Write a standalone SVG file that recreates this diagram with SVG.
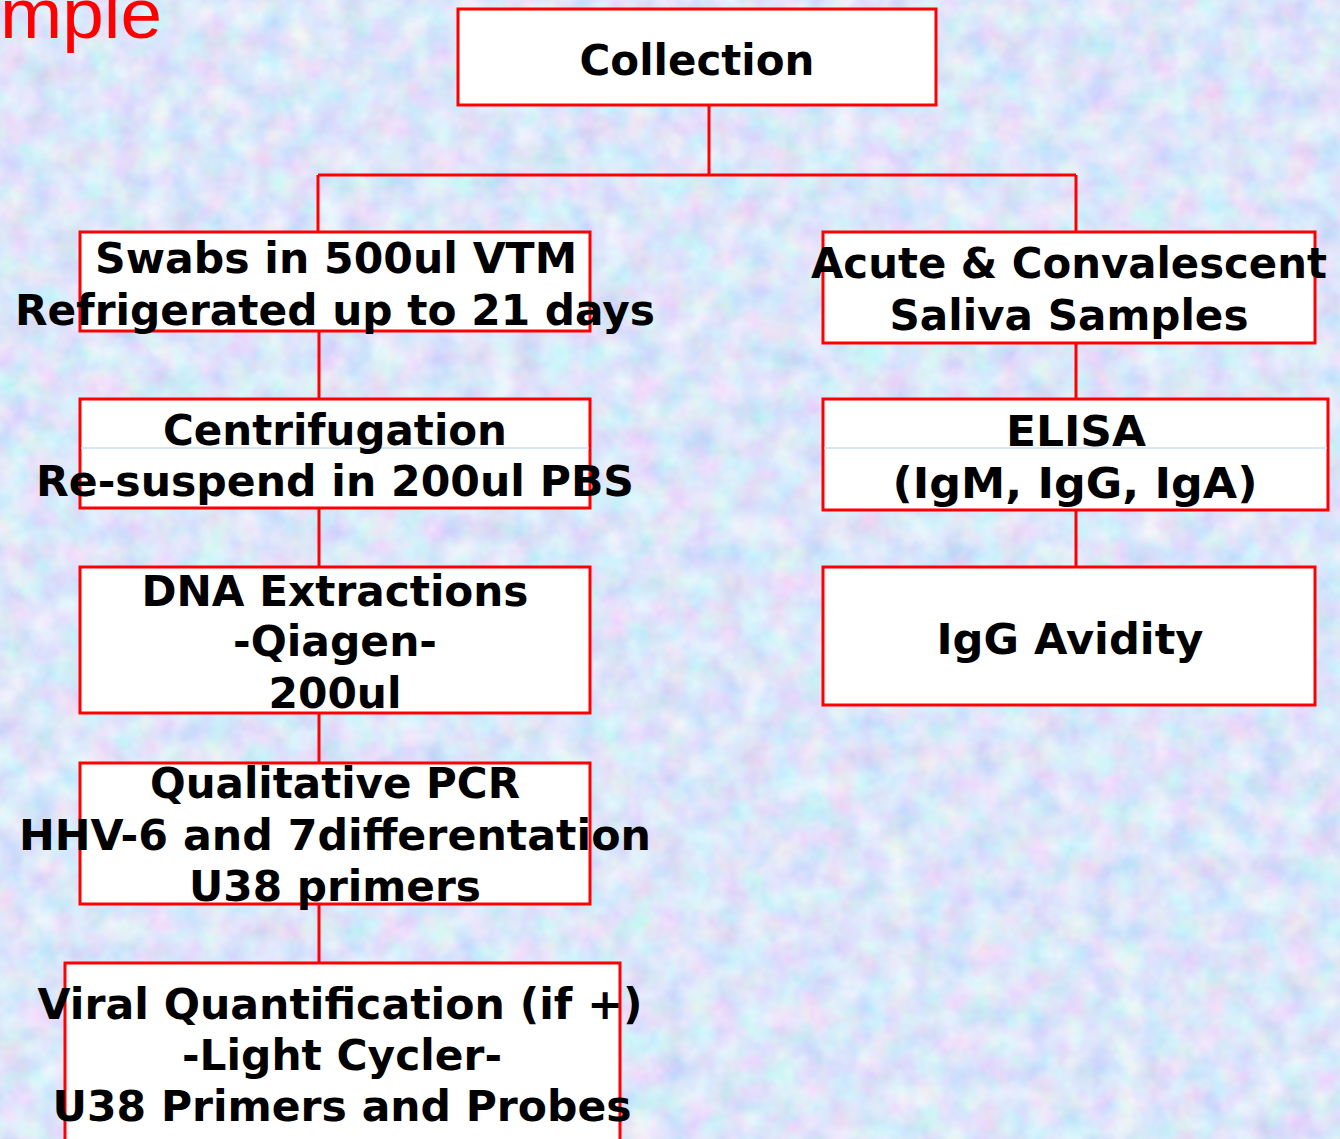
<svg xmlns="http://www.w3.org/2000/svg" width="1340" height="1139" viewBox="0 0 1340 1139">
<defs>
<filter id="tex" x="0" y="0" width="100%" height="100%">
<feTurbulence type="fractalNoise" baseFrequency="0.035" numOctaves="3" seed="7" result="n"/>
<feColorMatrix in="n" type="matrix" values="0.7 0 0 0 0.42  0 0.55 0 0 0.56  0 0 0.3 0 0.82  0 0 0 0 1"/>
</filter>
</defs>
<style>
.box{fill:#ffffff;stroke:#ff0000;stroke-width:3}
.lbl{font-family:"DejaVu Sans","Liberation Sans",sans-serif;font-weight:bold;font-size:43px;fill:#000000}
.con{stroke:#ff0000;stroke-width:3;fill:none}
.art{stroke:#c6dcf4;stroke-width:1.5}
</style>
<rect x="0" y="0" width="1340" height="1139" fill="#c2d4f4"/>
<rect x="0" y="0" width="1340" height="1139" filter="url(#tex)" opacity="0.8"/>
<text x="0" y="38" font-family="Liberation Sans, Arial, sans-serif" font-size="70" fill="#ff0000" textLength="162" lengthAdjust="spacingAndGlyphs">mple</text>

<g id="connectors">
<path class="con" d="M709,105 V175 M318,175 H1076 M318,175 V232 M1076,175 V232"/>
<path class="con" d="M319,331 V399 M319,508 V566 M319,713 V762 M319,904 V963"/>
<path class="con" d="M1076,343 V399 M1076,510 V566"/>
</g>

<g id="collection">
<rect class="box" x="458" y="9" width="478" height="96"/>
<text class="lbl" x="697" y="75" text-anchor="middle" textLength="235" lengthAdjust="spacingAndGlyphs">Collection</text>
</g>

<g id="swabs">
<rect class="box" x="80" y="232" width="510" height="99"/>
<text class="lbl" x="336" y="273" text-anchor="middle" textLength="482" lengthAdjust="spacingAndGlyphs">Swabs in 500ul VTM</text>
<text class="lbl" x="335" y="325" text-anchor="middle" textLength="640" lengthAdjust="spacingAndGlyphs">Refrigerated up to 21 days</text>
</g>

<g id="centrifugation">
<rect class="box" x="80" y="399" width="510" height="109"/>
<line class="art" x1="81" y1="448" x2="589" y2="448"/>
<text class="lbl" x="335" y="445" text-anchor="middle" textLength="344" lengthAdjust="spacingAndGlyphs">Centrifugation</text>
<text class="lbl" x="335" y="496" text-anchor="middle" textLength="598" lengthAdjust="spacingAndGlyphs">Re-suspend in 200ul PBS</text>
</g>

<g id="dna">
<rect class="box" x="80" y="567" width="510" height="146"/>
<text class="lbl" x="335" y="606" text-anchor="middle" textLength="387" lengthAdjust="spacingAndGlyphs">DNA Extractions</text>
<text class="lbl" x="335" y="656" text-anchor="middle" textLength="204" lengthAdjust="spacingAndGlyphs">-Qiagen-</text>
<text class="lbl" x="335" y="708" text-anchor="middle" textLength="133" lengthAdjust="spacingAndGlyphs">200ul</text>
</g>

<g id="pcr">
<rect class="box" x="80" y="763" width="510" height="141"/>
<text class="lbl" x="335" y="798" text-anchor="middle" textLength="370" lengthAdjust="spacingAndGlyphs">Qualitative PCR</text>
<text class="lbl" x="335" y="850" text-anchor="middle" textLength="632" lengthAdjust="spacingAndGlyphs">HHV-6 and 7differentation</text>
<text class="lbl" x="335" y="901" text-anchor="middle" textLength="292" lengthAdjust="spacingAndGlyphs">U38 primers</text>
</g>

<g id="viral">
<rect class="box" x="65" y="963" width="555" height="190"/>
<text class="lbl" x="340" y="1019" text-anchor="middle" textLength="605" lengthAdjust="spacingAndGlyphs">Viral Quantification (if +)</text>
<text class="lbl" x="342" y="1070" text-anchor="middle" textLength="320" lengthAdjust="spacingAndGlyphs">-Light Cycler-</text>
<text class="lbl" x="342" y="1121" text-anchor="middle" textLength="579" lengthAdjust="spacingAndGlyphs">U38 Primers and Probes</text>
</g>

<g id="acute">
<rect class="box" x="823" y="232" width="492" height="111"/>
<text class="lbl" x="1069" y="278" text-anchor="middle" textLength="516" lengthAdjust="spacingAndGlyphs">Acute &amp; Convalescent</text>
<text class="lbl" x="1069" y="330" text-anchor="middle" textLength="359" lengthAdjust="spacingAndGlyphs">Saliva Samples</text>
</g>

<g id="elisa">
<rect class="box" x="823" y="399" width="505" height="111"/>
<line class="art" x1="824" y1="448" x2="1327" y2="448"/>
<text class="lbl" x="1076" y="446" text-anchor="middle" textLength="140" lengthAdjust="spacingAndGlyphs">ELISA</text>
<text class="lbl" x="1075" y="498" text-anchor="middle" textLength="365" lengthAdjust="spacingAndGlyphs">(IgM, IgG, IgA)</text>
</g>

<g id="avidity">
<rect class="box" x="823" y="567" width="492" height="138"/>
<text class="lbl" x="1070" y="654" text-anchor="middle" textLength="267" lengthAdjust="spacingAndGlyphs">IgG Avidity</text>
</g>
</svg>
